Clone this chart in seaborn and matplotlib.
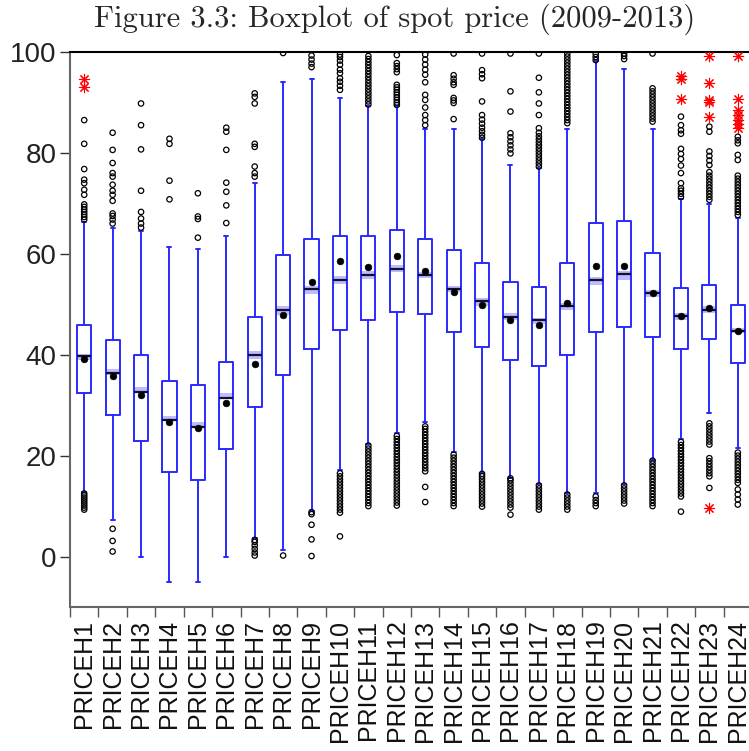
import numpy as np
import pandas as pd
import matplotlib
matplotlib.use("Agg")
import matplotlib.pyplot as plt
import seaborn as sns

# Hourly spot price boxplot values
hours = [f"PRICEH{i}" for i in range(1, 25)]

q1 = [32.5, 28.0, 23.0, 16.8, 15.2, 21.3, 29.6, 36.0, 41.2, 45.0, 46.9, 48.5,
      48.1, 44.5, 41.5, 38.9, 37.8, 39.9, 44.5, 45.4, 43.6, 41.1, 43.1, 38.4]
med = [39.7, 36.3, 32.7, 27.1, 25.6, 31.5, 40.0, 48.9, 53.0, 54.9, 55.8, 57.0,
       55.9, 53.1, 50.6, 47.5, 46.8, 49.7, 54.9, 56.0, 52.2, 47.6, 48.9, 44.8]
q3 = [45.9, 42.9, 39.9, 34.7, 34.0, 38.5, 47.5, 59.7, 62.9, 63.6, 63.6, 64.8,
      62.9, 60.7, 58.2, 54.5, 53.5, 58.2, 66.1, 66.5, 60.1, 53.2, 53.9, 49.9]
whislo = [12.7, 7.3, 0.0, -5.1, -5.1, 0.0, 3.7, 1.2, 9.0, 17.1, 22.3, 24.4,
          26.6, 20.7, 16.6, 15.6, 14.3, 12.6, 12.6, 14.4, 19.2, 23.2, 28.5, 21.5]
whishi = [66.4, 65.2, 64.6, 61.4, 60.9, 63.5, 74.0, 94.0, 94.7, 90.8, 89.2, 89.2,
          84.7, 84.8, 82.8, 77.6, 77.1, 84.8, 98.3, 96.6, 84.8, 70.8, 69.8, 67.1]
means = [39.2, 35.8, 32.1, 26.7, 25.4, 30.4, 38.2, 47.8, 54.4, 58.5, 57.3, 59.5,
         56.5, 52.4, 49.9, 46.8, 45.9, 50.2, 57.6, 57.5, 52.2, 47.6, 49.2, 44.8]
ci_lo = [39.0, 36.0, 32.6, 26.8, 25.6, 31.4, 39.1, 47.9, 52.1, 54.1, 55.0, 56.3,
         55.2, 52.4, 49.7, 46.9, 46.0, 48.9, 53.9, 54.9, 51.5, 46.9, 48.3, 44.3]
ci_hi = [40.2, 37.2, 33.7, 27.9, 26.6, 32.5, 40.7, 49.7, 53.7, 55.6, 56.5, 57.8,
         56.4, 53.7, 51.3, 48.3, 47.3, 50.3, 55.5, 56.5, 52.9, 48.3, 49.6, 45.3]

# outside values (open markers)
near_out = [
    [9.3, 9.7, 10.1, 10.5, 10.9, 11.3, 11.7, 12.1, 12.5, 66.8, 67.3, 67.8, 68.3,
     68.8, 69.3, 69.8, 71.7, 72.7, 74.0, 74.7, 76.8, 81.8, 86.5],
    [1.0, 3.1, 5.5, 66.0, 66.8, 67.5, 68.0, 70.5, 71.7, 72.5, 73.7, 75.3, 76.0,
     78.0, 80.6, 84.0],
    [65.2, 66.0, 67.0, 68.3, 72.5, 80.7, 85.5, 89.8],
    [70.8, 74.5, 81.8, 82.8],
    [63.2, 66.9, 67.4, 72.0],
    [66.1, 69.6, 72.3, 74.1, 80.6, 84.2, 85.0],
    [0.2, 0.8, 1.5, 2.2, 2.9, 3.3, 75.3, 76.0, 77.3, 81.2, 81.8, 89.8, 91.1, 91.8],
    [0.2, 99.8],
    [0.1, 3.4, 6.3, 8.4, 8.8, 97.0, 97.7, 98.5, 99.3],
    [4.0, 8.7, 9.3, 9.9, 10.5, 11.1, 11.7, 12.3, 12.9, 13.5, 14.1, 14.7, 15.3,
     15.9, 16.5, 92.5, 93.3, 94.1, 94.8, 95.8, 96.5, 97.5, 98.3, 99.0, 99.5],
    [10.0, 10.6, 11.2, 11.8, 12.4, 13.0, 13.6, 14.2, 14.8, 15.4, 16.0, 16.6,
     17.2, 17.8, 18.4, 19.0, 19.6, 20.2, 20.8, 21.4, 22.0, 89.6, 90.2, 90.8,
     91.4, 92.0, 92.6, 93.2, 93.8, 94.4, 95.0, 95.6, 96.2, 96.8, 97.4, 98.0,
     98.6, 99.2],
    [10.1, 10.7, 11.3, 11.9, 12.5, 13.1, 13.7, 14.3, 14.9, 15.5, 16.1, 16.7,
     17.3, 17.9, 18.5, 19.1, 19.7, 20.3, 20.9, 21.5, 22.1, 22.7, 23.3, 23.9,
     89.5, 90.0, 90.5, 91.0, 91.5, 92.0, 92.5, 93.0, 93.5, 96.0, 96.6, 97.2,
     97.8, 99.4],
    [10.8, 13.8, 16.9, 17.5, 18.1, 18.7, 19.3, 19.9, 20.5, 21.1, 21.7, 22.3,
     22.9, 23.5, 24.1, 24.7, 25.3, 25.8, 85.5, 86.5, 87.5, 89.0, 90.5, 91.5,
     94.0, 95.5, 96.5, 97.5, 98.5, 99.5],
    [10.0, 10.6, 11.2, 11.8, 12.4, 13.0, 13.6, 14.2, 14.8, 15.4, 16.0, 16.6,
     17.2, 17.8, 18.4, 19.0, 19.6, 20.2, 86.7, 89.9, 90.4, 90.9, 93.5, 94.0,
     94.7, 95.4, 99.7],
    [9.9, 10.5, 11.1, 11.7, 12.3, 12.9, 13.5, 14.1, 14.7, 15.3, 15.9, 16.4,
     83.0, 83.6, 84.3, 85.0, 85.8, 86.6, 87.5, 90.2, 94.8, 95.6, 96.4, 99.7],
    [8.3, 9.7, 10.3, 10.9, 11.5, 12.1, 12.7, 13.3, 13.9, 14.5, 15.1, 15.5,
     79.9, 80.7, 81.5, 82.3, 83.1, 83.9, 88.2, 92.2, 99.7],
    [9.3, 9.9, 10.5, 11.1, 11.7, 12.3, 12.9, 13.5, 14.1, 77.3, 77.9, 78.5,
     79.1, 79.7, 80.3, 80.9, 81.5, 82.1, 82.7, 83.3, 84.0, 84.9, 87.5, 89.8,
     92.0, 94.9, 99.7],
    [9.3, 9.9, 10.5, 11.1, 11.7, 12.3, 85.9, 86.5, 87.1, 87.7, 88.3, 88.9,
     89.5, 90.1, 90.7, 91.3, 91.9, 92.5, 93.1, 93.7, 94.3, 94.9, 95.5, 96.1,
     96.7, 97.3, 97.9, 98.5, 99.1, 99.7],
    [10.0, 10.6, 11.2, 11.9, 98.4, 99.0, 99.6],
    [10.5, 11.1, 11.7, 12.3, 12.9, 13.5, 14.1, 98.6, 99.2, 99.7],
    [10.0, 10.6, 11.2, 11.8, 12.4, 13.0, 13.6, 14.2, 14.8, 15.4, 16.0, 16.6,
     17.2, 17.8, 18.4, 19.0, 86.2, 86.8, 87.4, 88.0, 88.6, 89.2, 89.8, 90.4,
     91.0, 91.6, 92.2, 92.8, 99.7],
    [8.9, 11.9, 12.5, 13.1, 13.7, 14.3, 14.9, 15.5, 16.1, 16.7, 17.3, 17.9,
     18.5, 19.1, 19.7, 20.3, 20.9, 21.5, 22.1, 22.7, 71.3, 71.9, 72.5, 73.0,
     74.0, 76.0, 77.5, 78.8, 79.8, 80.8, 83.8, 84.5, 85.5, 87.2],
    [13.6, 15.9, 16.5, 17.1, 17.7, 18.3, 18.9, 19.5, 22.2, 22.8, 23.4, 24.0,
     24.6, 25.2, 25.8, 26.4, 70.7, 71.3, 71.9, 72.5, 73.1, 73.7, 74.3, 74.9,
     75.5, 76.2, 77.6, 78.5, 79.4, 80.3, 84.2, 85.2],
    [10.3, 11.3, 12.3, 13.3, 14.6, 15.2, 15.8, 16.4, 17.0, 17.6, 18.2, 18.8,
     19.4, 20.0, 20.6, 67.7, 68.3, 68.9, 69.5, 70.1, 70.7, 71.3, 71.9, 72.5,
     73.1, 73.7, 74.3, 74.9, 75.5, 78.6, 79.6, 81.9, 82.5, 83.2],
]

# far outside values (red asterisks)
far_out = [
    [93.0, 94.6], [], [], [], [], [], [], [], [], [], [], [], [], [], [], [],
    [], [], [], [], [],
    [90.7, 94.7, 95.2],
    [9.6, 87.1, 90.0, 90.5, 93.8, 99.2],
    [85.0, 85.7, 86.5, 87.5, 88.5, 90.6, 99.2],
]

blue = "#2a2aff"
pos = np.arange(len(hours))

near_df = pd.DataFrame([(i, v) for i, vals in enumerate(near_out) for v in vals],
                       columns=["pos", "price"])
far_df = pd.DataFrame([(i, v) for i, vals in enumerate(far_out) for v in vals],
                      columns=["pos", "price"])

sns.set_style("ticks")
plt.rcParams["font.family"] = ["Liberation Sans", "DejaVu Sans"]

fig = plt.figure(figsize=(7.49, 7.51), dpi=100)
ax = fig.add_axes([70 / 749, 1 - 607 / 751, 682 / 749, 555 / 751])

# median confidence band
ax.bar(pos, np.array(ci_hi) - np.array(ci_lo), bottom=ci_lo, width=0.5,
       color="#bcbcff", edgecolor="none", zorder=1.5)

stats = [dict(label=h, q1=a, med=m, q3=b, whislo=lo, whishi=hi, fliers=[])
         for h, a, m, b, lo, hi in zip(hours, q1, med, q3, whislo, whishi)]
ax.bxp(stats, positions=pos, widths=0.5, showfliers=False, capwidths=0.14,
       boxprops=dict(color=blue, linewidth=1.4),
       whiskerprops=dict(color=blue, linewidth=1.4),
       capprops=dict(color=blue, linewidth=1.4),
       medianprops=dict(color="#101030", linewidth=1.6),
       manage_ticks=False, zorder=2)

sns.scatterplot(data=near_df, x="pos", y="price", ax=ax, marker="o", s=15,
                facecolor="none", edgecolor="black", linewidth=0.9, zorder=3)
sns.scatterplot(data=far_df, x="pos", y="price", ax=ax, marker=(8, 2, 0), s=55,
                color="red", edgecolor="red", linewidth=0.8, zorder=3)
sns.scatterplot(x=pos, y=means, ax=ax, color="black", edgecolor="black", s=24,
                zorder=4)

ax.set_xlim(-0.5, 23.5)
ax.set_ylim(-10, 100)
ax.set_yticks([0, 20, 40, 60, 80, 100])
ax.set_xticks(pos)
ax.set_xticklabels(hours, rotation=90, fontsize=18, va="top")
ax.set_xticks(np.arange(-0.5, 24, 1), minor=True)
ax.tick_params(axis="x", which="major", length=0, pad=9, colors="#111111")
ax.tick_params(axis="x", which="minor", length=7, width=1, color="#555555")
ax.tick_params(axis="y", length=7.5, width=1, pad=2, labelsize=20,
               color="#333333", labelcolor="#222222")
ax.set_xlabel("")
ax.set_ylabel("")

for side in ["left", "bottom"]:
    ax.spines[side].set_color("#666666")
    ax.spines[side].set_linewidth(1.5)
ax.spines["top"].set_color("black")
ax.spines["top"].set_linewidth(1.5)
ax.spines["right"].set_visible(False)

fig.text(395 / 749, 1 - 27 / 751, "Figure 3.3: Boxplot of spot price (2009-2013)",
         ha="center", va="baseline", fontfamily="cmr10", fontsize=22)

fig.savefig("out.png", dpi=100)
